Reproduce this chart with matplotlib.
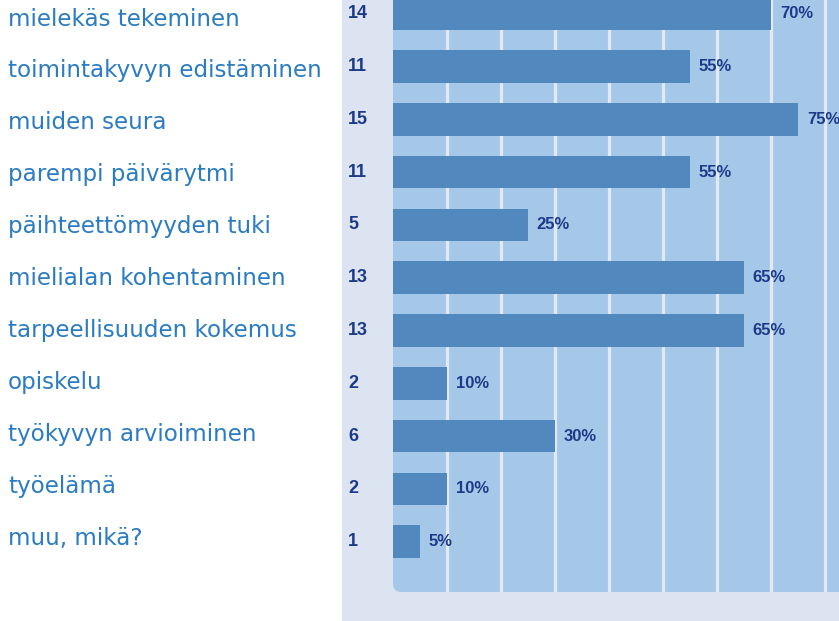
import matplotlib
matplotlib.use("Agg")
import matplotlib.pyplot as plt
from matplotlib.patches import Rectangle, FancyBboxPatch
from matplotlib import transforms

categories = ["mielekäs tekeminen", "toimintakyvyn edistäminen", "muiden seura",
              "parempi päivärytmi", "päihteettömyyden tuki", "mielialan kohentaminen",
              "tarpeellisuuden kokemus", "opiskelu", "työkyvyn arvioiminen",
              "työelämä", "muu, mikä?"]
counts = [14, 11, 15, 11, 5, 13, 13, 2, 6, 2, 1]
percents = [70, 55, 75, 55, 25, 65, 65, 10, 30, 10, 5]
grid_ticks = [10, 20, 30, 40, 50, 60, 70, 80]

W, H = 839, 621
fig = plt.figure(figsize=(W / 100, H / 100), dpi=100)
fig.patch.set_facecolor("white")

panel_col = "#dce3f1"
inner_col = "#a6c8e8"
bar_col = "#5189be"
grid_col = "#e2e9f4"
num_col = "#1d3a8a"
lab_col = "#2b7cc2"

# outer panel
fig.patches.append(Rectangle((342 / W, 0), 1 - 342 / W, 1, transform=fig.transFigure,
                             facecolor=panel_col, edgecolor="none", zorder=-5))

ax_l, ax_b = 393 / W, (H - 592) / H
ax = fig.add_axes([ax_l, ax_b, 1 - ax_l, 592 / H])
ax.set_facecolor("none")
for s in ax.spines.values():
    s.set_visible(False)
ax.set_xticks([])
ax.set_yticks([])

pitch = 52.8
top_c = 13.7
ax.set_xlim(0, 446 / 5.4)
ax.set_ylim((592 - top_c) / pitch, -top_c / pitch)

# inner rounded background (only the bottom-left corner visible)
bg = FancyBboxPatch((0, 0), 1.3, 1.3, boxstyle="round,pad=0,rounding_size=0.018",
                    transform=ax.transAxes, facecolor=inner_col, edgecolor="none",
                    clip_on=False, zorder=0.5, mutation_aspect=446 / 592)
ax.add_patch(bg)

for g in grid_ticks:
    ax.axvline(g, color=grid_col, lw=2.3, zorder=1)

ypos = list(range(len(categories)))
ax.barh(ypos, percents, height=0.62, color=bar_col, zorder=2)

for y, p in zip(ypos, percents):
    ax.annotate(f"{p}%", xy=(p, y), xytext=(6.3, 0), textcoords="offset points",
                va="center", ha="left", fontsize=12, fontweight="bold",
                family="Liberation Sans", color=num_col,
                annotation_clip=False, zorder=3)

trans_cnt = transforms.blended_transform_factory(fig.transFigure, ax.transData)
for y, c in zip(ypos, counts):
    ax.text(348 / W, y, str(c), transform=trans_cnt, ha="left", va="center",
            fontsize=13, fontweight="bold", family="Liberation Sans", color=num_col,
            clip_on=False)

# category labels (independent row spacing)
lab_ax = fig.add_axes([0, 0, 342 / W, 1])
lab_ax.set_axis_off()
lp = 51.95
lab_ax.set_xlim(0, 342)
lab_ax.set_ylim((H - 19) / lp, -19 / lp)
for y, t in zip(ypos, categories):
    lab_ax.text(8, y, t, ha="left", va="center", fontsize=16.6, family="DejaVu Sans",
                color=lab_col)

fig.savefig("out.png", dpi=100)
